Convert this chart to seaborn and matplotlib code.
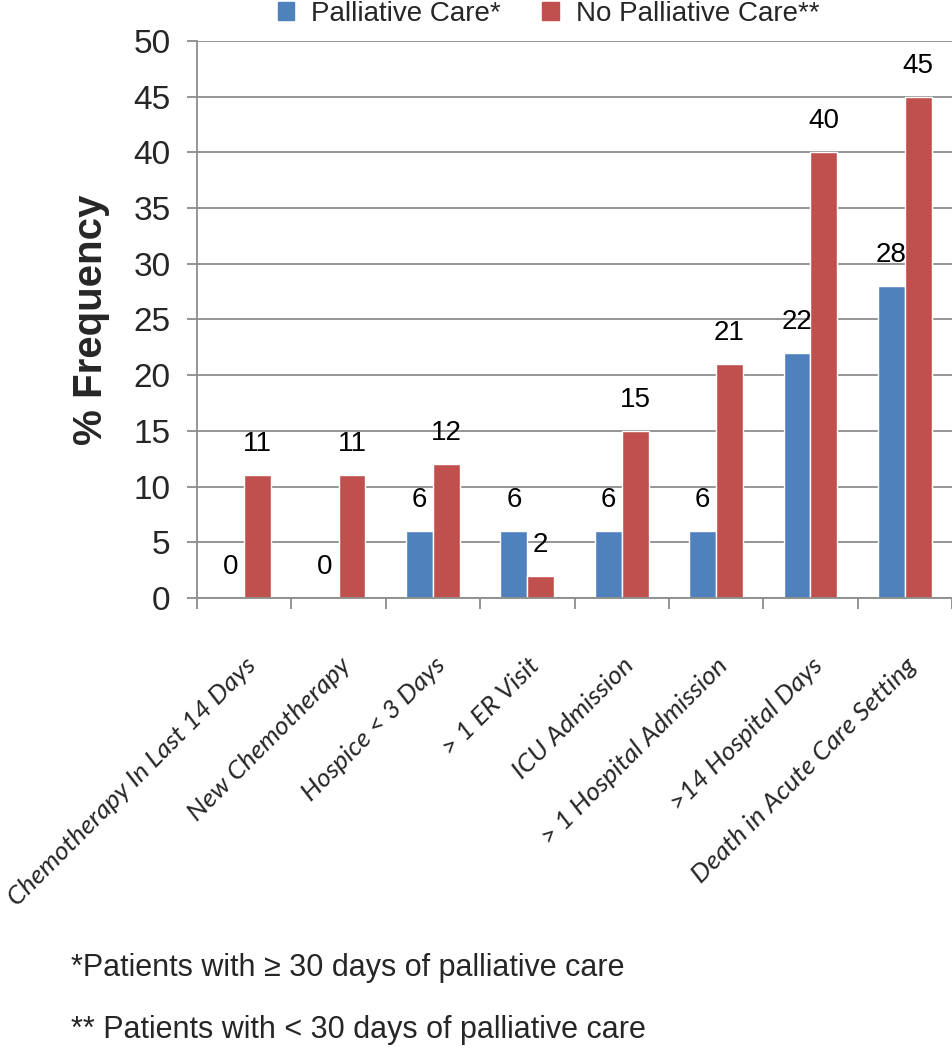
import numpy as np
import pandas as pd
import matplotlib.pyplot as plt
import seaborn as sns
from matplotlib import font_manager

# DATA
categories = ['Chemotherapy In Last 14 Days', 'New Chemotherapy', 'Hospice < 3 Days',
              '> 1 ER Visit', 'ICU Admission', '> 1 Hospital Admission',
              '>14 Hospital Days', 'Death in Acute Care Setting']
palliative = [0, 0, 6, 6, 6, 6, 22, 28]
no_palliative = [11, 11, 12, 2, 15, 21, 40, 45]
series_names = ['Palliative Care*', 'No Palliative Care**']
yticks = list(range(0, 55, 5))
footnotes = ['*Patients with \u2265 30 days of palliative care',
             '** Patients with < 30 days of palliative care']

df = pd.DataFrame({
    'category': categories * 2,
    'value': palliative + no_palliative,
    'series': [series_names[0]] * len(categories) + [series_names[1]] * len(categories),
})

sns.set_style('white')
names = {f.name for f in font_manager.fontManager.ttflist}
main_font = 'Liberation Sans'
label_font = 'Lato' if 'Lato' in names else 'Open Sans'
plt.rcParams['font.family'] = [main_font, 'DejaVu Sans']

colors = ['#4F81BD', '#C0504D']
grid_col = '#8C8C8C'

fig = plt.figure(figsize=(9.53, 10.5), dpi=100)
ax = fig.add_axes([0.2067, 0.4305, 0.7923, 0.5305])

sns.barplot(data=df, x='category', y='value', hue='series', palette=colors,
            width=0.57, saturation=1, ax=ax, legend=False)

for cont in ax.containers:
    ax.bar_label(cont, fmt='%d', padding=13, fontsize=20, color='black')

ax.set_ylim(0, 50)
ax.set_xlim(-0.5, len(categories) - 0.5)
ax.set_yticks(yticks)
ax.yaxis.grid(True, color=grid_col, linewidth=1.3)
ax.set_axisbelow(True)
for s in ['top', 'right']:
    ax.spines[s].set_visible(False)
for s in ['left', 'bottom']:
    ax.spines[s].set_color(grid_col)
    ax.spines[s].set_linewidth(1.3)

ax.tick_params(axis='y', left=True, length=7, width=1.3, color=grid_col,
               labelsize=24, pad=12)
ax.set_xticks(np.arange(len(categories)))
ax.set_xticks(np.arange(len(categories) + 1) - 0.5, minor=True)
ax.tick_params(axis='x', which='major', length=0, pad=40)
ax.tick_params(axis='x', which='minor', bottom=True, length=8, width=1.3, color=grid_col)
ax.set_xticklabels(categories, rotation=45, ha='right', rotation_mode='anchor',
                   fontsize=19, style='italic', family=label_font)

ax.set_xlabel('')
ax.set_ylabel('% Frequency', fontsize=29, fontweight='bold', labelpad=17)

# legend
handles = [plt.Rectangle((0, 0), 1, 1, color=c) for c in colors]
fig.legend(handles, series_names, loc='center', bbox_to_anchor=(0.5755, 0.987),
           ncol=2, frameon=False, fontsize=20, handlelength=0.6, handleheight=0.6,
           columnspacing=1.5, handletextpad=0.6)

fig.text(0.075, 0.078, footnotes[0], fontsize=22, va='center')
fig.text(0.075, 0.019, footnotes[1], fontsize=22, va='center')

fig.savefig('out.png', dpi=100)
